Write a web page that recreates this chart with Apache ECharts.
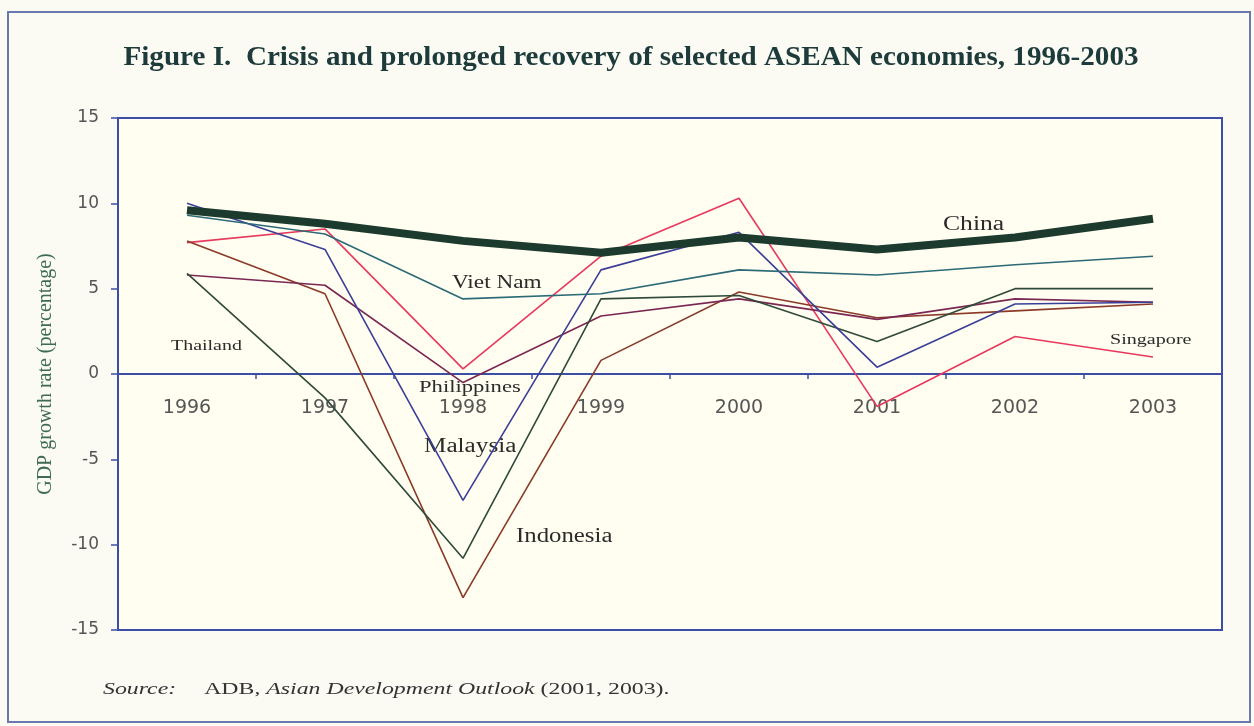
<!DOCTYPE html>
<html>
<head>
<meta charset="utf-8">
<style>
  html, body { margin: 0; padding: 0; background: #fbfbf4; }
  #chart { width: 1254px; height: 726px; }
</style>
<script src="https://cdn.jsdelivr.net/npm/echarts@6/dist/echarts.min.js"></script>
</head>
<body>
<div id="chart"></div>
<script>
  // years on the x axis
  const years = ['1996', '1997', '1998', '1999', '2000', '2001', '2002', '2003'];

  // GDP growth rate (%)
  const china = [9.6, 8.8, 7.8, 7.1, 8.0, 7.3, 8.0, 9.1];
  const vietNam = [9.3, 8.2, 4.4, 4.7, 6.1, 5.8, 6.4, 6.9];
  const malaysia = [10.0, 7.3, -7.4, 6.1, 8.3, 0.4, 4.1, 4.2];
  const thailand = [5.9, -1.4, -10.8, 4.4, 4.6, 1.9, 5.0, 5.0];
  const indonesia = [7.8, 4.7, -13.1, 0.8, 4.8, 3.3, 3.7, 4.1];
  const philippines = [5.8, 5.2, -0.5, 3.4, 4.4, 3.2, 4.4, 4.2];
  const singapore = [7.7, 8.5, 0.3, 6.9, 10.3, -1.9, 2.2, 1.0];

  const blue = '#3c4ea6';
  const serif = '"Liberation Serif", "DejaVu Serif", serif';
  const sans = '"DejaVu Sans", sans-serif';

  function line(name, data, color, width) {
    return {
      name: name,
      type: 'line',
      data: data,
      symbol: 'none',
      lineStyle: { color: color, width: width || 1.6 },
    };
  }

  // free text placed on the page, widened a little like the scanned original
  function note(text, x, y, size, sx, extra) {
    return {
      type: 'text',
      x: x,
      y: y,
      scaleX: sx,
      silent: true,
      style: Object.assign({
        text: text,
        font: size + 'px ' + serif,
        fill: '#2b2b2b',
        textVerticalAlign: 'middle',
      }, extra || {}),
    };
  }

  const chart = echarts.init(document.getElementById('chart'));
  const option = {
    backgroundColor: '#fbfbf4',
    animation: false,
    grid: {
      left: 118,
      right: 32,
      top: 118,
      bottom: 96,
      show: true,
      borderColor: blue,
      borderWidth: 2,
      backgroundColor: '#fffef1',
    },
    xAxis: [
      {
        type: 'category',
        data: years,
        boundaryGap: true,
        axisLine: { onZero: true, lineStyle: { color: blue, width: 2 } },
        axisTick: { show: true, length: 5, lineStyle: { color: blue, width: 1.5 } },
        axisLabel: { show: false },
        splitLine: { show: false },
      },
      {
        // labels only, pulled up under the zero line
        type: 'category',
        data: years,
        position: 'bottom',
        offset: -256,
        boundaryGap: true,
        axisLine: { show: false, onZero: false },
        axisTick: { show: false },
        axisLabel: { margin: 25, fontFamily: sans, fontSize: 19, color: '#555' },
        splitLine: { show: false },
      },
    ],
    yAxis: {
      type: 'value',
      min: -15,
      max: 15,
      interval: 5,
      name: 'GDP growth rate (percentage)',
      nameLocation: 'middle',
      nameGap: 62,
      nameTextStyle: { fontFamily: serif, fontSize: 20, color: '#3d6a52' },
      axisLine: { show: true, lineStyle: { color: blue, width: 2 } },
      axisTick: { show: true, length: 7, lineStyle: { color: blue, width: 1.5 } },
      axisLabel: { margin: 19, fontFamily: sans, fontSize: 17, color: '#555' },
      splitLine: { show: false },
    },
    series: [
      line('Singapore', singapore, '#e8385c'),
      line('Indonesia', indonesia, '#8c3a28'),
      line('Philippines', philippines, '#7a2852'),
      line('Thailand', thailand, '#2f4a3a'),
      line('Malaysia', malaysia, '#3a3f98'),
      line('Viet Nam', vietNam, '#2c6a78'),
      line('China', china, '#1d3a2e', 8),
    ],
    graphic: [
      {
        type: 'rect',
        shape: { x: 8, y: 12, width: 1242, height: 710 },
        style: { fill: null, stroke: '#6a78b0', lineWidth: 2 },
        silent: true,
      },
      note('Figure I.  Crisis and prolonged recovery of selected ASEAN economies, 1996-2003',
        631, 58, 28, 1.04, { font: 'bold 28px ' + serif, fill: '#1d3b3b', textAlign: 'center' }),
      note('China', 943, 225, 20, 1.28),
      note('Viet Nam', 452, 283, 18, 1.29),
      note('Thailand', 171, 346, 15, 1.33),
      note('Philippines', 419, 388, 17, 1.33),
      note('Malaysia', 424, 447, 20, 1.26),
      note('Indonesia', 516, 537, 20, 1.24),
      note('Singapore', 1110, 340, 15, 1.34),
      {
        type: 'text',
        x: 103,
        y: 690,
        scaleX: 1.4,
        silent: true,
        style: {
          text: '{i|Source:}      {n|ADB, }{i|Asian Development Outlook}{n| (2001, 2003).}',
          textVerticalAlign: 'middle',
          rich: {
            i: { font: 'italic 17px ' + serif, fill: '#333' },
            n: { font: '17px ' + serif, fill: '#333' },
          },
        },
      },
    ],
  };
  chart.setOption(option);
</script>
</body>
</html>
